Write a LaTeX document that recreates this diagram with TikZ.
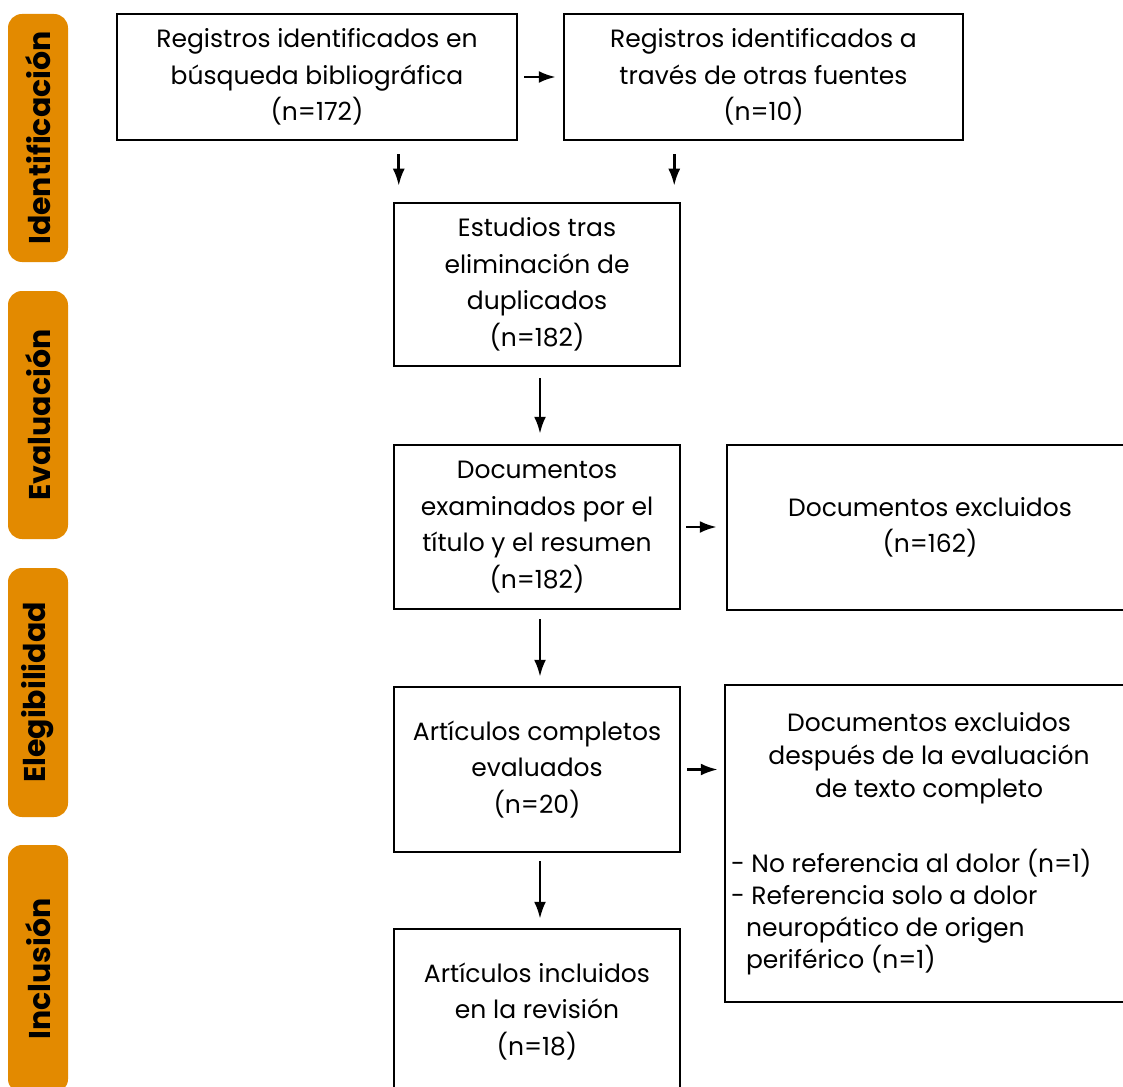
\documentclass[tikz,border=0pt]{standalone}
\usepackage{fontspec}
\setmainfont{Poppins}
\usetikzlibrary{arrows.meta, positioning, calc}
\definecolor{phaseorange}{RGB}{227,138,0}

\tikzset{
  box/.style={draw, line width=2.5pt, align=center, inner sep=0pt,
    font=\fontsize{25}{36.5}\selectfont},
  phase/.style={fill=phaseorange, rounded corners=14pt, rotate=90,
    minimum height=60pt, inner sep=0pt, font=\fontsize{30}{32}\selectfont\bfseries},
  arr/.style={line width=2.6pt, -{Latex[length=17pt,width=12pt]}}
}

\begin{document}
\begin{tikzpicture}[x=1pt,y=-1pt]
\useasboundingbox (0,0) rectangle (1123,1086);
\clip (0,0) rectangle (1123,1086);

% fases
\node[phase, minimum width=248pt] (idf) at (38,138)   {Identificación};
\node[phase, minimum width=248pt] (eva) at (38,415)   {Evaluación};
\node[phase, minimum width=249pt] (ele) at (38,692.5) {Elegibilidad};
\node[phase, minimum width=248pt] (inc) at (38,969)   {Inclusión};

% cajas
\node[box, minimum width=400pt, minimum height=126pt] (b1) at (317,77)
  {Registros identificados en\\búsqueda bibliográfica\\(n=172)};
\node[box, minimum width=399pt, minimum height=126pt] (b2) at (763.5,77)
  {Registros identificados a\\través de otras fuentes\\(n=10)};
\node[box, minimum width=286pt, minimum height=163pt] (b3) at (537,284.5)
  {Estudios tras\\eliminación de\\duplicados\\(n=182)};
\node[box, minimum width=286pt, minimum height=164pt] (b4) at (537,527)
  {Documentos\\examinados por el\\título y el resumen\\(n=182)};
\node[box, minimum width=406pt, minimum height=165pt] (b5) at (930,527.5)
  {Documentos excluidos\\(n=162)};
\node[box, minimum width=286pt, minimum height=165pt] (b6) at (537,769.5)
  {Artículos completos\\evaluados\\(n=20)};
\node[box, minimum width=408pt, minimum height=317pt,
  font=\fontsize{25}{33}\selectfont] (b7) at (929,843.5)
  {Documentos excluidos\\después de la evaluación\\de texto completo\\[42pt]
   \begin{minipage}[t]{396pt}\raggedright\fontsize{25}{32}\selectfont
   - No referencia al dolor (n=1)\\
   - Referencia solo a dolor\\
   \hspace*{15pt}neuropático de origen\\
   \hspace*{15pt}periférico (n=1)
   \end{minipage}};
\node[box, minimum width=286pt, minimum height=165pt] (b8) at (537,1011.5)
  {Artículos incluidos\\en la revisión\\(n=18)};

\coordinate (t1) at ([xshift=6pt]b3.north west);
\coordinate (t2) at ([xshift=-7pt]b3.north east);

% flechas
\draw[arr, shorten <=6pt, shorten >=7pt] (b1) -- (b2);
\draw[arr, shorten <=13pt, shorten >=16pt] (t1 |- b1.south) -- (t1);
\draw[arr, shorten <=13pt, shorten >=16pt] (t2 |- b2.south) -- (t2);
\draw[arr, shorten <=11pt, shorten >=10pt] ([xshift=3pt]b3.south) -- ([xshift=3pt]b4.north);
\draw[arr, shorten <=5pt, shorten >=9pt] (b4.east) -- (b4.east -| b5.west);
\draw[arr, shorten <=9pt, shorten >=9pt] ([xshift=3pt]b4.south) -- ([xshift=3pt]b6.north);
\draw[arr, shorten <=6pt, shorten >=6pt] (b6.east) -- (b6.east -| b7.west);
\draw[arr, shorten <=8pt, shorten >=9pt] ([xshift=3pt]b6.south) -- ([xshift=3pt]b8.north);

\end{tikzpicture}
\end{document}
